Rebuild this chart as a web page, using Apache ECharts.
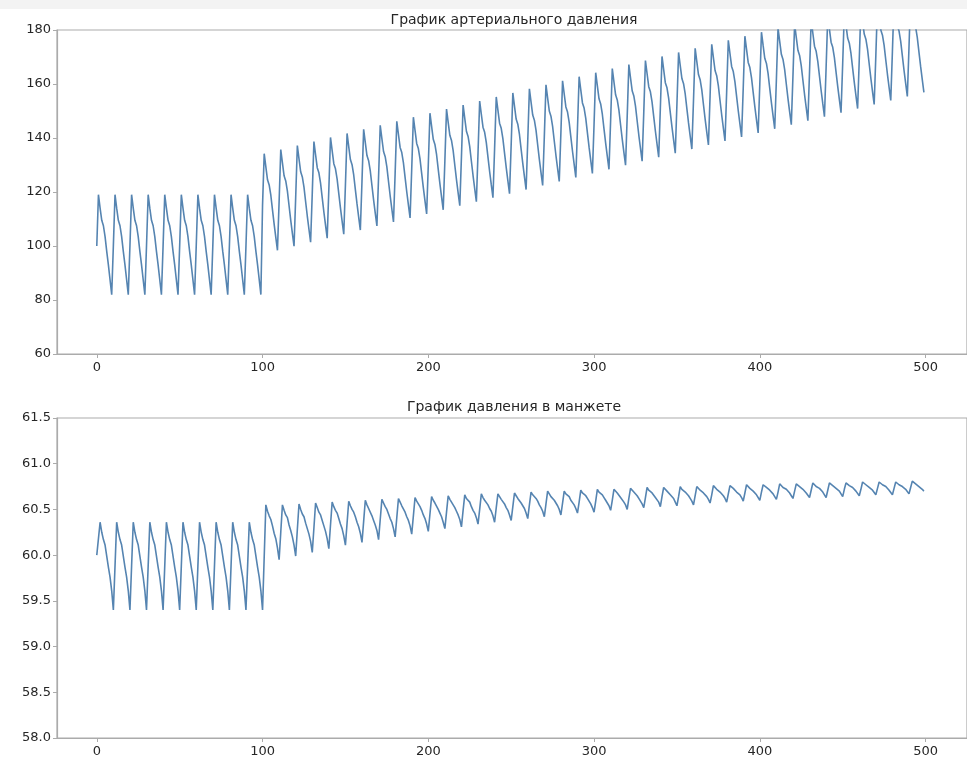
<!DOCTYPE html>
<html>
<head>
<meta charset="utf-8">
<script src="https://cdn.jsdelivr.net/npm/echarts@6/dist/echarts.min.js"></script>
<style>
  html, body { margin: 0; padding: 0; background: #ffffff; }
  #chart { width: 967px; height: 758px; }
</style>
</head>
<body>
<div id="chart"></div>
<script>
// Titles of the two panels
const titles = ['График артериального давления', 'График давления в манжете'];

// Sample index tick labels (shared by both panels)
const xTicks = [0, 100, 200, 300, 400, 500];

// Value axis ranges / steps of each panel
const arterialTicks = { min: 60, max: 180, step: 20 };
const cuffTicks = { min: 58.0, max: 61.5, step: 0.5 };

// Arterial pressure, one heart cycle (10 samples) per line
const arterialPressure = [
  100,119,114,109.5,107.5,103.5,98,93,87.5,82,
  100,119,114,109.5,107.5,103.5,98,93,87.5,82,
  100,119,114,109.5,107.5,103.5,98,93,87.5,82,
  100,119,114,109.5,107.5,103.5,98,93,87.5,82,
  100,119,114,109.5,107.5,103.5,98,93,87.5,82,
  100,119,114,109.5,107.5,103.5,98,93,87.5,82,
  100,119,114,109.5,107.5,103.5,98,93,87.5,82,
  100,119,114,109.5,107.5,103.5,98,93,87.5,82,
  100,119,114,109.5,107.5,103.5,98,93,87.5,82,
  100,119,114,109.5,107.5,103.5,98,93,87.5,82,
  115,134.2,129.3,124.5,122.6,118.8,113.4,108.1,103.2,98.4,
  116.5,135.7,130.8,126,124.1,120.3,114.9,109.6,104.7,99.9,
  118,137.2,132.3,127.5,125.6,121.8,116.4,111.1,106.2,101.4,
  119.5,138.7,133.8,129,127.1,123.3,117.9,112.6,107.7,102.9,
  121,140.2,135.3,130.5,128.6,124.8,119.4,114.1,109.2,104.4,
  122.5,141.7,136.8,132,130.1,126.3,120.9,115.6,110.7,105.9,
  124,143.2,138.3,133.5,131.6,127.8,122.4,117.1,112.2,107.4,
  125.5,144.7,139.8,135,133.1,129.3,123.9,118.6,113.7,108.9,
  127,146.2,141.3,136.5,134.6,130.8,125.4,120.1,115.2,110.4,
  128.5,147.7,142.8,138,136.1,132.3,126.9,121.6,116.7,111.9,
  130,149.2,144.3,139.5,137.6,133.8,128.4,123.1,118.2,113.4,
  131.5,150.7,145.8,141,139.1,135.3,129.9,124.6,119.7,114.9,
  133,152.2,147.3,142.5,140.6,136.8,131.4,126.1,121.2,116.4,
  134.5,153.7,148.8,144,142.1,138.3,132.9,127.6,122.7,117.9,
  136,155.2,150.3,145.5,143.6,139.8,134.4,129.1,124.2,119.4,
  137.5,156.7,151.8,147,145.1,141.3,135.9,130.6,125.7,120.9,
  139,158.2,153.3,148.5,146.6,142.8,137.4,132.1,127.2,122.4,
  140.5,159.7,154.8,150,148.1,144.3,138.9,133.6,128.7,123.9,
  142,161.2,156.3,151.5,149.6,145.8,140.4,135.1,130.2,125.4,
  143.5,162.7,157.8,153,151.1,147.3,141.9,136.6,131.7,126.9,
  145,164.2,159.3,154.5,152.6,148.8,143.4,138.1,133.2,128.4,
  146.5,165.7,160.8,156,154.1,150.3,144.9,139.6,134.7,129.9,
  148,167.2,162.3,157.5,155.6,151.8,146.4,141.1,136.2,131.4,
  149.5,168.7,163.8,159,157.1,153.3,147.9,142.6,137.7,132.9,
  151,170.2,165.3,160.5,158.6,154.8,149.4,144.1,139.2,134.4,
  152.5,171.7,166.8,162,160.1,156.3,150.9,145.6,140.7,135.9,
  154,173.2,168.3,163.5,161.6,157.8,152.4,147.1,142.2,137.4,
  155.5,174.7,169.8,165,163.1,159.3,153.9,148.6,143.7,138.9,
  157,176.2,171.3,166.5,164.6,160.8,155.4,150.1,145.2,140.4,
  158.5,177.7,172.8,168,166.1,162.3,156.9,151.6,146.7,141.9,
  160,179.2,174.3,169.5,167.6,163.8,158.4,153.1,148.2,143.4,
  161.5,180.7,175.8,171,169.1,165.3,159.9,154.6,149.7,144.9,
  163,182.2,177.3,172.5,170.6,166.8,161.4,156.1,151.2,146.4,
  164.5,183.7,178.8,174,172.1,168.3,162.9,157.6,152.7,147.9,
  166,185.2,180.3,175.5,173.6,169.8,164.4,159.1,154.2,149.4,
  167.5,186.7,181.8,177,175.1,171.3,165.9,160.6,155.7,150.9,
  169,188.2,183.3,178.5,176.6,172.8,167.4,162.1,157.2,152.4,
  170.5,189.7,184.8,180,178.1,174.3,168.9,163.6,158.7,153.9,
  172,191.2,186.3,181.5,179.6,175.8,170.4,165.1,160.2,155.4,
  173.5,192.7,187.8,183,181.1,177.3,171.9,166.6,161.7,156.9
];

// Cuff pressure, 10 samples per line
const cuffPressure = [
  60,60,60.36,60.25,60.17,60.11,59.99,59.87,59.76,59.61,
  59.4,59.88,60.36,60.25,60.17,60.11,59.99,59.87,59.76,59.61,
  59.4,59.88,60.36,60.25,60.17,60.11,59.99,59.87,59.76,59.61,
  59.4,59.88,60.36,60.25,60.17,60.11,59.99,59.87,59.76,59.61,
  59.4,59.88,60.36,60.25,60.17,60.11,59.99,59.87,59.76,59.61,
  59.4,59.88,60.36,60.25,60.17,60.11,59.99,59.87,59.76,59.61,
  59.4,59.88,60.36,60.25,60.17,60.11,59.99,59.87,59.76,59.61,
  59.4,59.88,60.36,60.25,60.17,60.11,59.99,59.87,59.76,59.61,
  59.4,59.88,60.36,60.25,60.17,60.11,59.99,59.87,59.76,59.61,
  59.4,59.88,60.36,60.25,60.17,60.11,59.99,59.87,59.76,59.61,
  59.4,59.98,60.55,60.48,60.43,60.39,60.32,60.24,60.18,60.08,
  59.95,60.25,60.55,60.49,60.44,60.41,60.33,60.27,60.2,60.11,
  59.99,60.28,60.56,60.5,60.45,60.42,60.35,60.29,60.23,60.15,
  60.03,60.3,60.57,60.52,60.47,60.44,60.38,60.32,60.26,60.18,
  60.07,60.33,60.58,60.53,60.49,60.46,60.4,60.34,60.29,60.21,
  60.11,60.35,60.59,60.54,60.5,60.47,60.42,60.36,60.31,60.24,
  60.14,60.37,60.6,60.55,60.51,60.49,60.43,60.38,60.33,60.27,
  60.17,60.39,60.61,60.57,60.53,60.5,60.45,60.4,60.36,60.29,
  60.2,60.41,60.62,60.58,60.54,60.52,60.47,60.42,60.38,60.32,
  60.23,60.43,60.63,60.59,60.56,60.53,60.49,60.44,60.4,60.34,
  60.26,60.45,60.64,60.6,60.57,60.55,60.5,60.46,60.42,60.36,
  60.29,60.47,60.65,60.61,60.58,60.56,60.52,60.48,60.44,60.39,
  60.31,60.49,60.66,60.62,60.6,60.58,60.53,60.49,60.46,60.41,
  60.34,60.5,60.67,60.63,60.6,60.59,60.55,60.51,60.48,60.43,
  60.36,60.52,60.67,60.64,60.61,60.6,60.56,60.52,60.49,60.44,
  60.38,60.53,60.68,60.65,60.62,60.61,60.57,60.54,60.51,60.46,
  60.4,60.55,60.69,60.66,60.64,60.62,60.59,60.55,60.52,60.48,
  60.42,60.56,60.7,60.67,60.64,60.63,60.6,60.57,60.54,60.5,
  60.44,60.57,60.7,60.67,60.65,60.64,60.6,60.58,60.55,60.51,
  60.46,60.58,60.71,60.68,60.66,60.65,60.62,60.59,60.56,60.52,
  60.47,60.59,60.72,60.69,60.67,60.66,60.63,60.6,60.57,60.54,
  60.49,60.6,60.72,60.7,60.68,60.66,60.63,60.61,60.58,60.55,
  60.5,60.62,60.73,60.71,60.69,60.67,60.65,60.62,60.6,60.56,
  60.52,60.63,60.74,60.71,60.69,60.68,60.66,60.63,60.61,60.58,
  60.53,60.64,60.74,60.72,60.7,60.69,60.66,60.64,60.62,60.58,
  60.54,60.64,60.75,60.72,60.71,60.69,60.67,60.65,60.62,60.59,
  60.55,60.65,60.75,60.73,60.71,60.7,60.68,60.66,60.64,60.61,
  60.57,60.66,60.76,60.74,60.72,60.71,60.69,60.67,60.65,60.62,
  60.58,60.67,60.76,60.74,60.73,60.72,60.69,60.67,60.66,60.63,
  60.59,60.68,60.77,60.75,60.73,60.72,60.7,60.68,60.66,60.64,
  60.6,60.69,60.77,60.75,60.74,60.73,60.71,60.69,60.67,60.65,
  60.61,60.69,60.78,60.76,60.74,60.74,60.72,60.7,60.68,60.65,
  60.62,60.7,60.78,60.76,60.75,60.74,60.72,60.7,60.68,60.66,
  60.63,60.71,60.79,60.77,60.75,60.75,60.73,60.71,60.69,60.66,
  60.63,60.71,60.79,60.77,60.76,60.75,60.73,60.71,60.7,60.67,
  60.64,60.72,60.79,60.78,60.76,60.75,60.74,60.72,60.7,60.68,
  60.65,60.72,60.8,60.78,60.77,60.76,60.74,60.72,60.71,60.69,
  60.66,60.73,60.8,60.79,60.77,60.76,60.75,60.73,60.71,60.69,
  60.66,60.73,60.8,60.79,60.77,60.77,60.75,60.73,60.72,60.7,
  60.67,60.74,60.81,60.79,60.78,60.77,60.75,60.74,60.72,60.7
];

const FONT = '"DejaVu Sans", "Liberation Sans", sans-serif';
const FRAME = '#ababab';
const LINE = '#5584b1';
const TEXT = '#262626';

function withIndex(values) {
  return values.map((v, i) => [i, v]);
}

function xAxisFor(gridIndex) {
  return {
    type: 'value',
    gridIndex: gridIndex,
    position: 'bottom',
    min: -24,
    max: 525,
    axisLine: { show: true, onZero: false, lineStyle: { color: FRAME, width: 1.2 } },
    splitLine: { show: false },
    axisTick: { show: true, length: 4, customValues: xTicks, lineStyle: { color: FRAME } },
    axisLabel: { customValues: xTicks, margin: 7, fontFamily: FONT, fontSize: 13, color: TEXT }
  };
}

function yAxisFor(gridIndex, range, digits) {
  return {
    type: 'value',
    gridIndex: gridIndex,
    position: 'left',
    min: range.min,
    max: range.max,
    interval: range.step,
    axisLine: { show: true, onZero: false, lineStyle: { color: FRAME, width: 1.2 } },
    splitLine: { show: false },
    axisTick: { show: true, length: 4, lineStyle: { color: FRAME } },
    axisLabel: {
      margin: 6, fontFamily: FONT, fontSize: 13, color: TEXT,
      formatter: v => v.toFixed(digits)
    }
  };
}

const chart = echarts.init(document.getElementById('chart'), null, { renderer: 'canvas' });

chart.setOption({
  animation: false,
  backgroundColor: '#ffffff',
  graphic: [{
    type: 'rect', left: 0, top: 0, z: -10,
    shape: { width: 967, height: 9 },
    style: { fill: '#f3f3f3' }
  }],
  title: [
    { text: titles[0], left: 514, top: 13, textAlign: 'center', padding: 0,
      textStyle: { fontFamily: FONT, fontSize: 14, fontWeight: 'normal', color: TEXT } },
    { text: titles[1], left: 514, top: 400, textAlign: 'center', padding: 0,
      textStyle: { fontFamily: FONT, fontSize: 14, fontWeight: 'normal', color: TEXT } }
  ],
  grid: [
    { left: 57, top: 30, width: 917, height: 324, show: true, borderColor: FRAME, borderWidth: 1.2, backgroundColor: 'transparent' },
    { left: 57, top: 418, width: 917, height: 326, show: true, borderColor: FRAME, borderWidth: 1.2, backgroundColor: 'transparent' }
  ],
  xAxis: [xAxisFor(0), xAxisFor(1)],
  yAxis: [yAxisFor(0, arterialTicks, 0), yAxisFor(1, cuffTicks, 1)],
  series: [
    {
      type: 'line', xAxisIndex: 0, yAxisIndex: 0,
      data: withIndex(arterialPressure),
      showSymbol: false, clip: true,
      lineStyle: { color: LINE, width: 1.6 }
    },
    {
      type: 'line', xAxisIndex: 1, yAxisIndex: 1,
      data: withIndex(cuffPressure),
      showSymbol: false, clip: true,
      lineStyle: { color: LINE, width: 1.6 }
    }
  ]
});
</script>
</body>
</html>
